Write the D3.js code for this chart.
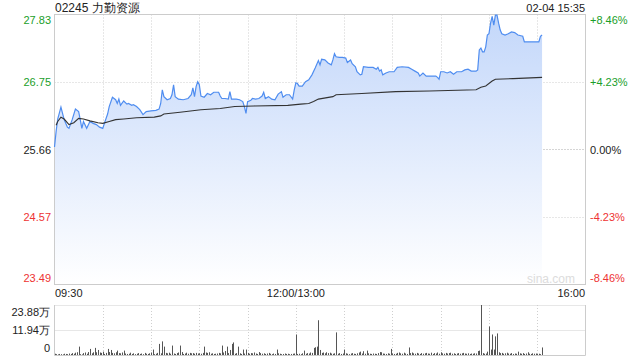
<!DOCTYPE html>
<html>
<head>
<meta charset="utf-8">
<script src="https://cdn.jsdelivr.net/npm/d3@7"></script>
<style>
  body { margin: 0; background: #fff; }
  svg text { font-family: "Liberation Sans", Arial, sans-serif; }
</style>
</head>
<body>
<div id="chart"></div>
<script>
// 基本信息
const title = "02245 力勤资源";
const stamp = "02-04 15:35";
const prevClose = 25.66;

// 左右刻度
const priceTicks = [27.83, 26.75, 25.66, 24.57, 23.49];
const pctTicks = ["+8.46%", "+4.23%", "0.00%", "-4.23%", "-8.46%"];
const timeLabels = ["09:30", "12:00/13:00", "16:00"];
const volTicks = [23.88, 11.94, 0];
const volTickLabels = ["23.88万", "11.94万", "0"];

// 分时价格 (交易分钟, 价格)
const priceMinutes = [0, 1, 2, 4, 6, 8, 9, 11, 13, 15, 16, 17, 18, 20, 22, 24, 26, 28, 30, 31,
  33, 34, 36, 38, 39, 40, 41, 43, 45, 46, 48, 49, 51, 53, 55, 57, 60, 63, 65, 66,
  67, 68, 70, 72, 73, 74, 75, 77, 80, 83, 85, 86, 87, 88, 89, 90, 91, 93, 95, 97,
  99, 102, 103, 104, 106, 108, 109, 110, 113, 115, 117, 118, 119, 120, 122, 123, 125, 127, 129, 130,
  131, 133, 135, 137, 139, 141, 142, 144, 146, 148, 149, 150, 151, 152, 154, 156, 158, 160, 162, 164,
  165, 166, 168, 170, 172, 173, 174, 175, 177, 179, 181, 182, 184, 185, 187, 188, 190, 191, 192, 195,
  198, 200, 201, 202, 203, 204, 206, 208, 211, 213, 216, 220, 222, 224, 226, 227, 229, 231, 234, 237,
  238, 239, 240, 242, 244, 246, 248, 250, 253, 255, 257, 259, 262, 263, 264, 265, 266, 267, 268, 269,
  270, 271, 272, 273, 274, 275, 276, 277, 278, 280, 282, 284, 286, 288, 291, 292, 295, 299, 301, 302, 303];
const prices = [25.70, 25.95, 26.15, 26.34, 26.14, 26.02, 26.00, 26.14, 26.31, 26.27, 26.14, 26.00, 26.11, 26.00, 26.11, 26.08, 26.06, 26.02, 26.00, 26.08,
  26.23, 26.35, 26.50, 26.46, 26.40, 26.47, 26.37, 26.44, 26.39, 26.40, 26.37, 26.38, 26.35, 26.30, 26.22, 26.27, 26.28, 26.29, 26.31, 26.40,
  26.62, 26.51, 26.46, 26.48, 26.54, 26.70, 26.51, 26.47, 26.46, 26.48, 26.54, 26.65, 26.51, 26.67, 26.75, 26.70, 26.52, 26.50, 26.56, 26.54,
  26.58, 26.58, 26.52, 26.48, 26.48, 26.47, 26.59, 26.47, 26.47, 26.46, 26.43, 26.35, 26.24, 26.43, 26.45, 26.48, 26.47, 26.48, 26.52, 26.58,
  26.48, 26.51, 26.47, 26.46, 26.55, 26.59, 26.50, 26.54, 26.54, 26.47, 26.62, 26.73, 26.72, 26.68, 26.68, 26.75, 26.78, 26.86, 26.97, 27.09,
  27.02, 27.11, 27.10, 27.05, 27.02, 27.10, 27.20, 27.15, 27.14, 27.14, 27.13, 27.06, 27.10, 27.04, 26.99, 26.91, 26.86, 26.87, 26.99, 26.98,
  26.98, 26.95, 26.98, 26.92, 26.94, 26.86, 26.89, 26.91, 26.91, 26.98, 26.99, 26.98, 26.95, 26.92, 26.89, 26.84, 26.89, 26.84, 26.84, 26.84,
  26.82, 26.79, 26.91, 26.91, 26.89, 26.91, 26.87, 26.91, 26.91, 26.94, 26.95, 26.92, 26.92, 26.94, 27.26, 27.29, 27.23, 27.23, 27.31, 27.50,
  27.52, 27.69, 27.80, 27.66, 27.82, 27.82, 27.69, 27.58, 27.52, 27.50, 27.52, 27.55, 27.54, 27.50, 27.48, 27.39, 27.39, 27.39, 27.39, 27.48, 27.50];

// 均价线
const avgMinutes = [1, 2, 4, 6, 9, 12, 15, 18, 22, 27, 30, 34, 38, 43, 51, 62, 66, 68, 78, 91,
  103, 112, 124, 145, 153, 158, 161, 164, 173, 175, 191, 212, 233, 262, 265, 268, 272, 274, 285, 303];
const avgPrices = [26.05, 26.11, 26.18, 26.15, 26.06, 26.09, 26.16, 26.15, 26.12, 26.09, 26.08, 26.11, 26.14, 26.15, 26.17, 26.18, 26.20, 26.23, 26.26, 26.30,
  26.32, 26.35, 26.36, 26.37, 26.39, 26.40, 26.43, 26.47, 26.51, 26.54, 26.56, 26.59, 26.60, 26.62, 26.66, 26.68, 26.76, 26.79, 26.80, 26.82];

// 每分钟成交量 (万股), 分钟 0..303
const volumes = [
  0.6, 0.4, 0.3, 0.5, 0.4, 0.3, 0.6, 0.5, 0.4, 0.7,
  0.5, 0.9, 0.6, 1.1, 1.3, 4.0, 0.4, 0.3, 0.9, 1.2,
  0.6, 1.4, 2.9, 0.8, 1.3, 3.4, 1.3, 2.4, 1.2, 1.0,
  1.6, 0.5, 1.0, 2.9, 1.4, 2.4, 1.0, 0.8, 1.3, 2.1,
  0.9, 0.8, 1.2, 2.1, 0.7, 0.5, 0.6, 1.1, 0.5, 0.8,
  0.4, 0.6, 0.9, 0.5, 0.7, 0.4, 1.0, 0.6, 0.5, 0.8,
  1.2, 2.6, 0.4, 0.6, 1.0, 5.3, 0.8, 6.5, 4.0, 1.0,
  0.8, 1.1, 0.6, 4.5, 0.7, 0.5, 0.9, 1.2, 4.5, 1.4,
  0.5, 0.7, 1.1, 0.6, 1.0, 0.8, 0.9, 0.6, 1.0, 0.7,
  0.8, 0.6, 1.0, 4.0, 1.2, 1.0, 1.3, 0.6, 0.8, 0.5,
  0.6, 0.7, 1.0, 0.8, 4.5, 1.2, 1.9, 4.0, 0.9, 2.4,
  5.3, 6.0, 0.6, 0.9, 4.0, 0.8, 0.5, 2.6, 0.7, 2.6,
  1.0, 0.6, 0.9, 0.8, 1.2, 0.7, 0.5, 1.4, 0.9, 0.6,
  0.8, 0.5, 0.7, 1.0, 0.6, 0.4, 0.7, 0.5, 2.6, 0.8,
  0.6, 0.4, 0.5, 0.7, 0.5, 0.6, 0.4, 0.5, 0.6, 0.7,
  9.8, 0.5, 0.6, 0.4, 0.8, 2.1, 0.6, 0.9, 0.7, 1.2,
  1.0, 3.4, 3.7, 4.0, 16.6, 2.4, 1.0, 1.2, 0.8, 1.3,
  0.9, 1.1, 0.7, 0.6, 0.8, 10.8, 0.6, 0.9, 0.5, 0.7,
  2.6, 0.8, 0.6, 0.4, 0.7, 0.9, 0.6, 0.5, 0.8, 1.2,
  1.6, 0.7, 1.8, 0.6, 2.1, 0.8, 0.6, 0.5, 0.7, 0.6,
  0.5, 0.9, 1.4, 1.3, 0.7, 0.6, 0.5, 0.8, 0.6, 2.9,
  0.7, 0.5, 0.6, 1.0, 1.2, 0.8, 0.6, 1.1, 0.7, 0.5,
  3.6, 0.9, 1.2, 0.8, 0.6, 1.0, 0.7, 0.5, 0.9, 0.6,
  0.8, 1.0, 0.7, 0.6, 1.1, 0.5, 0.9, 0.7, 1.2, 0.6,
  1.3, 0.8, 0.6, 1.0, 0.7, 0.9, 1.1, 0.6, 0.8, 0.5,
  0.7, 0.9, 0.6, 0.8, 1.0, 0.7, 0.6, 0.8, 0.5, 0.7,
  0.6, 0.8, 0.7, 1.9, 2.1, 23.88, 0.9, 0.6, 0.7, 1.6,
  13.6, 2.6, 9.8, 2.6, 8.9, 10.3, 1.3, 0.9, 1.0, 0.6,
  0.8, 1.1, 0.7, 0.6, 0.9, 0.5, 0.7, 0.6, 1.6, 0.8,
  0.6, 0.9, 0.5, 0.7, 1.3, 0.6, 0.5, 0.8, 0.6, 0.7,
  0.5, 0.6, 0.4, 3.6];

const width = 640, height = 360;
const green = "#1a9e2a", red = "#ee3333", dark = "#222";

const svg = d3.select("#chart").append("svg")
  .attr("width", width).attr("height", height);

// 比例尺
const x = d3.scaleLinear().domain([0, 330]).range([54.5, 585.5]);
const y = d3.scaleLinear().domain([23.49, 27.83]).range([284.5, 14.5]);
const yv = d3.scaleLinear().domain([0, 23.88]).range([355, 305]);

function tickColor(v) {
  if (Math.abs(v - prevClose) < 0.005) return dark;
  return v > prevClose ? green : red;
}

// 渐变填充
const grad = svg.append("defs").append("linearGradient")
  .attr("id", "fillGrad").attr("gradientUnits", "userSpaceOnUse")
  .attr("x1", 0).attr("y1", y.range()[1]).attr("x2", 0).attr("y2", y.range()[0]);
grad.append("stop").attr("offset", "0%").attr("stop-color", "#c3d7fa");
grad.append("stop").attr("offset", "100%").attr("stop-color", "#ffffff");

// 网格
const grid = svg.append("g");
d3.range(30, 330, 30).forEach(m => {
  grid.append("line")
    .attr("x1", Math.round(x(m)) + 0.5).attr("x2", Math.round(x(m)) + 0.5)
    .attr("y1", y.range()[1]).attr("y2", y.range()[0])
    .attr("stroke", "#cfcfcf").attr("stroke-dasharray", "1,2");
  grid.append("line")
    .attr("x1", Math.round(x(m)) + 0.5).attr("x2", Math.round(x(m)) + 0.5)
    .attr("y1", 305).attr("y2", 355)
    .attr("stroke", "#cfcfcf").attr("stroke-dasharray", "1,2");
});
priceTicks.slice(1, 4).forEach(v => {
  grid.append("line")
    .attr("x1", x.range()[0]).attr("x2", x.range()[1])
    .attr("y1", Math.round(y(v)) + 0.5).attr("y2", Math.round(y(v)) + 0.5)
    .attr("stroke", v === prevClose ? "#aaaaaa" : "#cfcfcf")
    .attr("stroke-dasharray", "1,2");
});
volTicks.slice(0, 2).forEach(v => {
  grid.append("line")
    .attr("x1", x.range()[0]).attr("x2", x.range()[1])
    .attr("y1", Math.round(yv(v)) + 0.5).attr("y2", Math.round(yv(v)) + 0.5)
    .attr("stroke", "#cfcfcf").attr("stroke-dasharray", "1,1");
});

// 价格区域
const pts = priceMinutes.map((m, i) => [m, prices[i]]);
const area = d3.area().x(d => x(d[0])).y0(y.range()[0]).y1(d => y(d[1]));
svg.append("path").datum(pts).attr("d", area).attr("fill", "url(#fillGrad)");

// 水印
svg.append("text").attr("x", 575).attr("y", 283).attr("text-anchor", "end")
  .style("font-size", "12px").style("fill", "#dcdcdc").text("sina.com");

// 边框
svg.append("rect").attr("x", x.range()[0]).attr("y", y.range()[1])
  .attr("width", x.range()[1] - x.range()[0]).attr("height", y.range()[0] - y.range()[1])
  .attr("fill", "none").attr("stroke", "#cccccc");
svg.append("path")
  .attr("d", `M${x.range()[0]},305V355.5H${x.range()[1]}V305`)
  .attr("fill", "none").attr("stroke", "#cccccc");

// 价格线与均价线
const line = d3.line().x(d => x(d[0])).y(d => y(d[1]));
svg.append("path").datum(pts).attr("d", line)
  .attr("fill", "none").attr("stroke", "#4f8df0").attr("stroke-width", 1.2);
svg.append("path").datum(avgMinutes.map((m, i) => [m, avgPrices[i]])).attr("d", line)
  .attr("fill", "none").attr("stroke", "#333").attr("stroke-width", 1.1);

// 成交量
svg.append("g").selectAll("line").data(volumes).enter().append("line")
  .attr("x1", (d, i) => Math.round(x(i)) + 0.5).attr("x2", (d, i) => Math.round(x(i)) + 0.5)
  .attr("y1", yv(0)).attr("y2", d => yv(d))
  .attr("stroke", "#555").attr("stroke-width", 1);

// 文字
const lbl = svg.append("g").style("font-size", "11px");
priceTicks.forEach((v, i) => {
  let yy = y(v) + 4;
  if (i === 0) yy = 24;
  if (i === priceTicks.length - 1) yy = 282;
  lbl.append("text").attr("x", 51).attr("y", yy).attr("text-anchor", "end")
    .style("fill", tickColor(v)).text(v.toFixed(2));
  lbl.append("text").attr("x", 590).attr("y", yy)
    .style("fill", tickColor(v)).text(pctTicks[i]);
});
lbl.append("text").attr("x", 55).attr("y", 297).style("fill", dark).text(timeLabels[0]);
lbl.append("text").attr("x", x(150)).attr("y", 297).attr("text-anchor", "middle").style("fill", dark).text(timeLabels[1]);
lbl.append("text").attr("x", 585).attr("y", 297).attr("text-anchor", "end").style("fill", dark).text(timeLabels[2]);

volTicks.forEach((v, i) => {
  let yy = yv(v) + 4;
  if (i === 0) yy = 316;
  if (i === volTicks.length - 1) yy = 352;
  lbl.append("text").attr("x", 50).attr("y", yy).attr("text-anchor", "end")
    .style("fill", dark).text(volTickLabels[i]);
});

svg.append("text").attr("x", 55).attr("y", 12).style("font-size", "12px")
  .style("fill", dark).text(title);
svg.append("text").attr("x", 585).attr("y", 12).attr("text-anchor", "end").style("font-size", "11px")
  .style("fill", dark).text(stamp);
</script>
</body>
</html>
